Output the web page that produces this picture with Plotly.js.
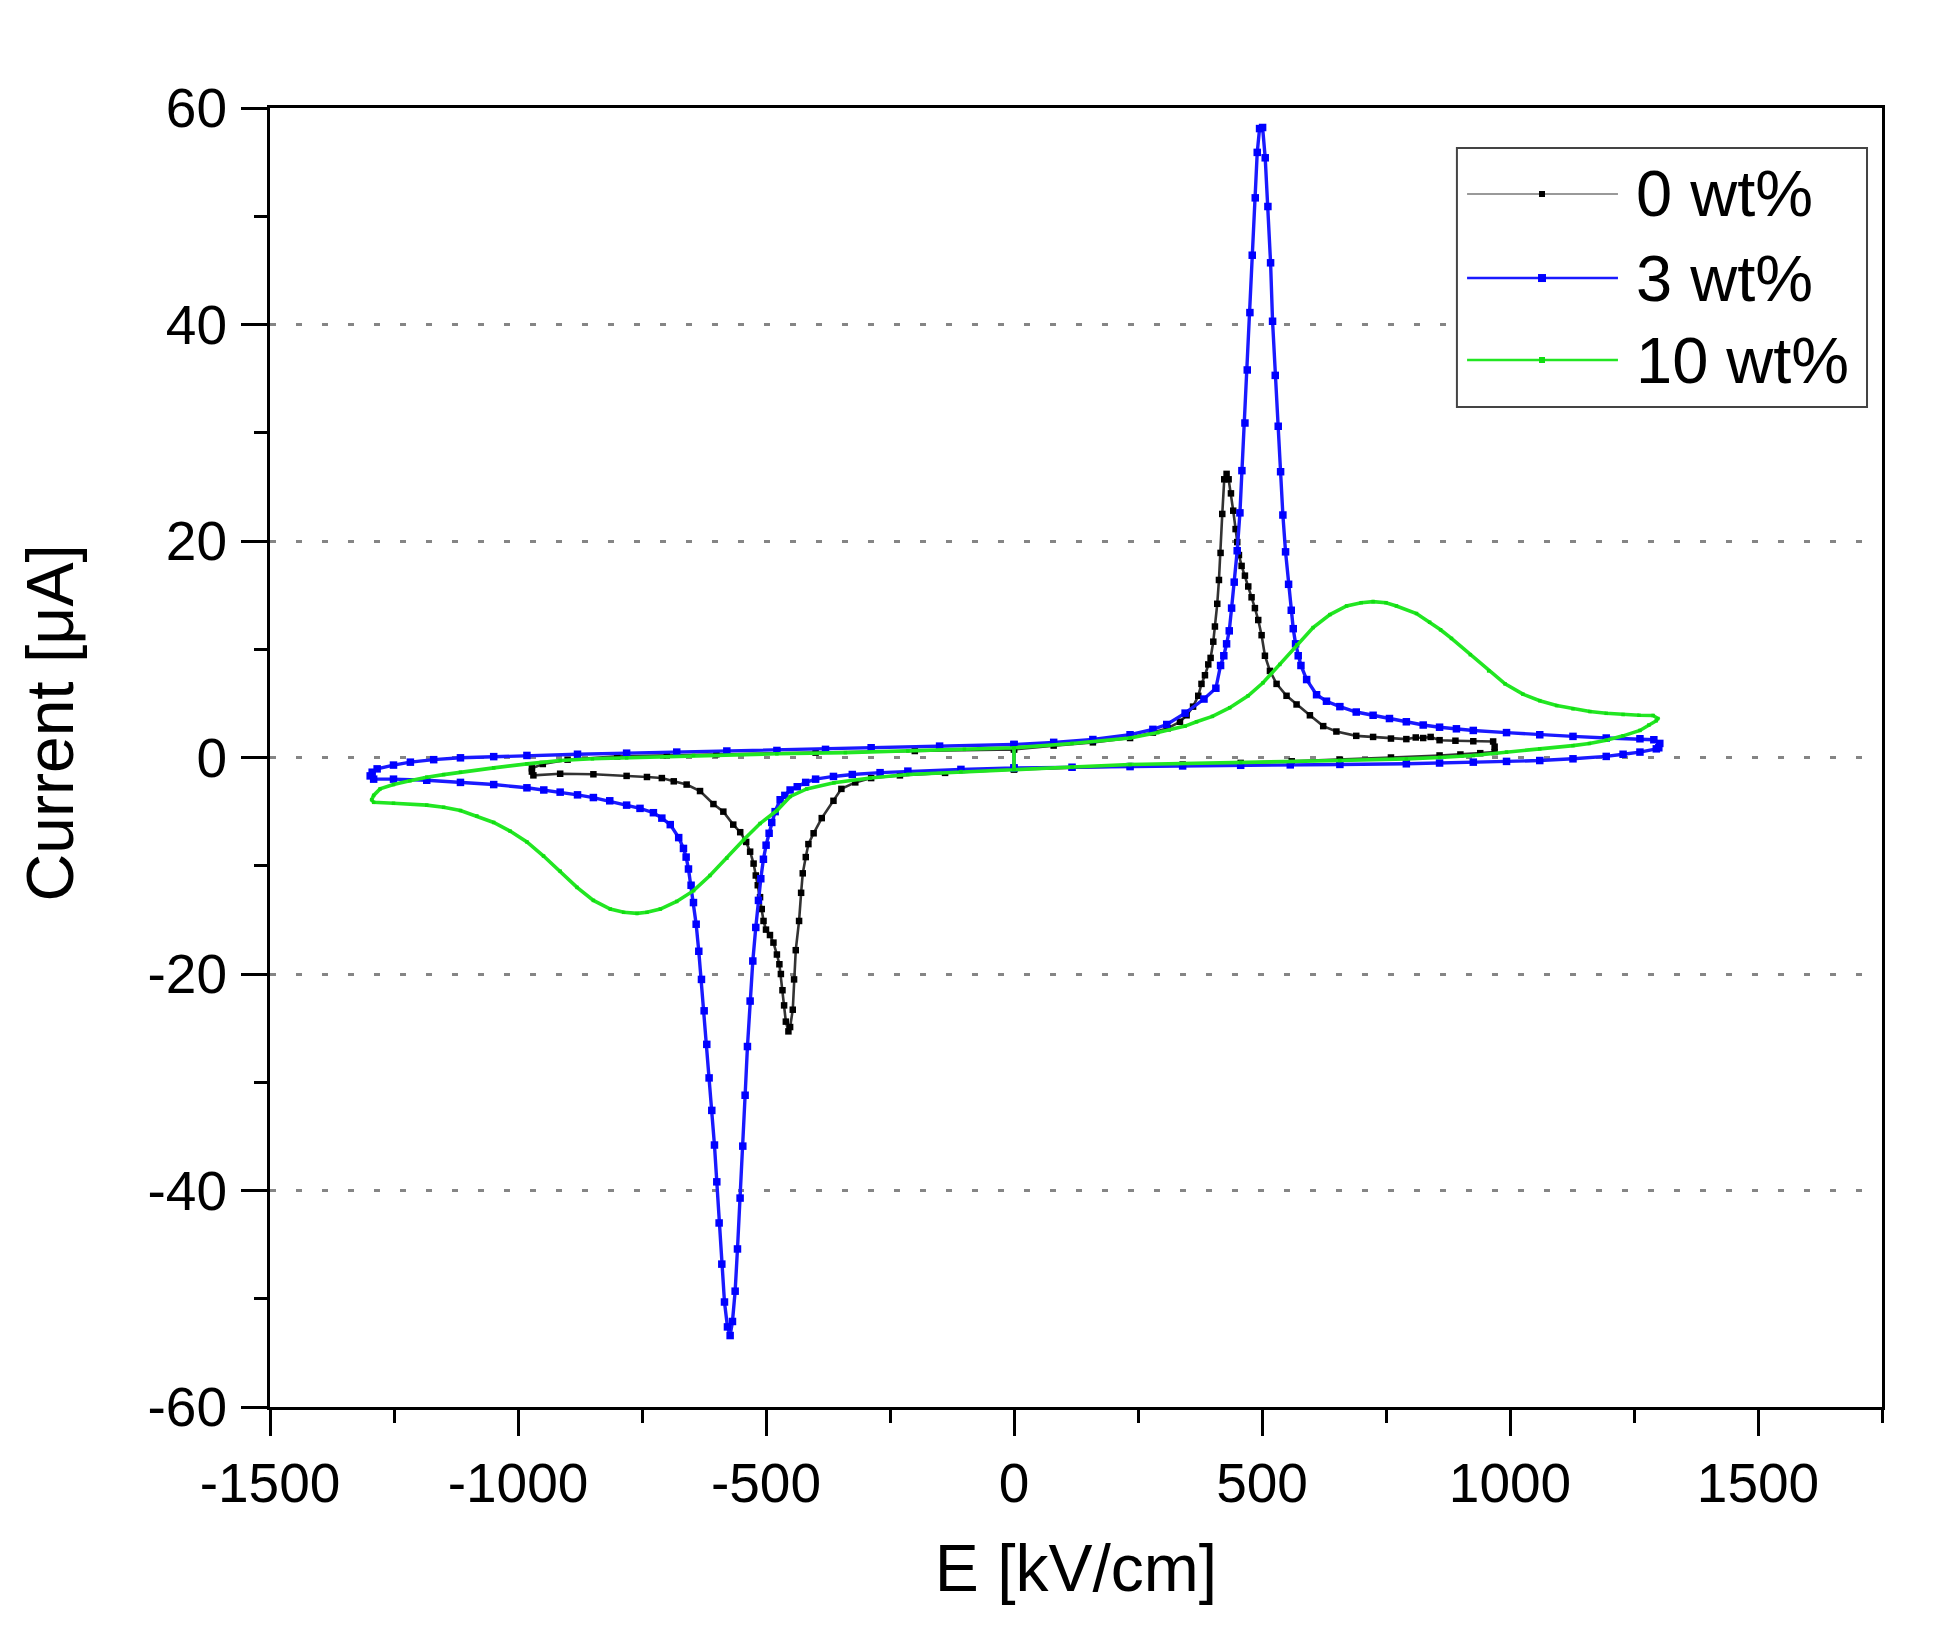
<!DOCTYPE html>
<html>
<head>
<meta charset="utf-8">
<script src="https://cdn.plot.ly/plotly-3.0.1.min.js"></script>
<style>
  html, body { margin: 0; padding: 0; background: #fff; }
  #chart { width: 1945px; height: 1645px; }
</style>
</head>
<body>
<div id="chart"></div>
<script>
// series names, as in the legend
const seriesNames = ['0 wt%', '3 wt%', '10 wt%'];

// 0 wt% : E [kV/cm] and current [µA], in sweep order (0 -> +E -> -E -> 0)
const e0 = [0, 0, 80, 159, 234, 280, 310, 334.6, 348, 361, 371.5, 378, 385, 391.7, 396.4, 401.8, 405.1, 409.8, 413.2, 416.5, 419.9, 423.9, 428.6, 432.7, 437.4, 442, 446.8, 450.1, 453.5, 458.9, 465.6, 472.3, 479, 485.7, 492.4, 499.2, 505.9, 516, 529.4, 549.5, 569.7, 596.6, 623.4, 650, 690, 724, 760, 791, 810, 825, 840, 858, 890, 926, 966,
  969, 969,
  940, 900, 858, 760, 657, 560, 457, 340, 234, 117, 0, -139, -230, -288, -320, -348, -364, -387.6, -404, -414.5, -419.8, -425.9, -429.2, -433.3, -440, -443.4, -446, -451.4, -454.8, -460, -463.5, -466.8, -470, -473, -478, -485, -492, -500, -505, -508.5, -512, -516.6, -520.6, -525, -532, -540, -552, -566, -586, -606, -633, -660, -686, -710, -740, -781, -848, -915, -969,
  -972, -972,
  -950, -900, -800, -700, -600, -400, -200, 0];
const i0 = [-1.1, 0.75, 1.1, 1.4, 1.8, 2.3, 2.7, 3.3, 3.9, 4.7, 5.7, 6.8, 7.6, 8.6, 9.2, 10.7, 12.1, 14.2, 16.4, 18.9, 22.5, 25.7, 26.2, 25.7, 24.4, 22.8, 21.1, 19.9, 18.7, 17.7, 16.8, 15.8, 14.8, 13.8, 12.7, 11.3, 9.4, 8.0, 6.8, 5.7, 4.9, 3.9, 2.9, 2.4, 2.0, 1.9, 1.75, 1.7, 1.85, 1.8, 1.9, 1.6, 1.55, 1.5, 1.48,
  1.0, 0.5,
  0.4, 0.28, 0.19, 0, -0.2, -0.35, -0.5, -0.65, -0.8, -0.95, -1.1, -1.42, -1.65, -1.9, -2.3, -2.9, -4.0, -5.6, -7.0, -8.0, -9.2, -10.7, -12.5, -15.1, -17.8, -20.5, -23.3, -24.9, -25.3, -24.4, -22.9, -21.5, -20.0, -19.1, -18.2, -17.1, -16.4, -15.9, -15.1, -14.0, -12.9, -11.8, -10.9, -9.8, -8.7, -7.8, -6.9, -6.2, -5.0, -4.3, -3.1, -2.5, -2.2, -1.9, -1.8, -1.7, -1.55, -1.5, -1.65,
  -1.3, -1.0,
  -0.6, -0.2, 0.1, 0.2, 0.3, 0.45, 0.6, 0.75];

// 3 wt%
const e3 = [0, 0, 80, 159, 234, 280, 308, 345, 383, 407, 416.5, 423, 428.6, 434, 438.7, 444, 450, 455.5, 459.5, 465.6, 470.3, 475.6, 480.3, 486.4, 490.4, 495.1, 501.2, 506.5, 511.9, 517.3, 521.3, 526.7, 532.7, 537.5, 542.1, 547.5, 553.6, 559, 563, 567.7, 573, 578.5, 590, 610, 630, 657, 690, 724, 757, 791, 825, 858, 892, 926, 993, 1060, 1127, 1194, 1262, 1290,
  1302, 1300,
  1295, 1262, 1228, 1194, 1127, 1060, 993, 926, 858, 791, 657, 557, 457, 340, 234, 117, 0, -107, -214, -270, -326, -364, -400, -420, -437, -451.4, -462, -471.5, -481.6, -488.4, -493.7, -499.8, -505.2, -510.5, -515.2, -520.6, -526.6, -532, -537.4, -542.1, -546.8, -552.2, -557.5, -562.2, -567.6, -572.3, -577.7, -583.7, -589.1, -594.5, -599.2, -603.9, -609.3, -614.7, -619.4, -624.7, -630.1, -635.5, -640.8, -646.2, -651, -656.3, -661, -666.4, -676, -693, -710, -727, -754, -781, -815, -848, -880, -915, -948, -982, -1049, -1116, -1184, -1251, -1291,
  -1298, -1294,
  -1284, -1251, -1217, -1170, -1116, -1049, -982, -880, -781, -680, -579, -478, -380, -288, -150, 0];
const i3 = [-0.96, 1.2, 1.4, 1.66, 2.1, 2.6, 3.05, 4.1, 5.4, 6.4, 8.5, 9.4, 10.5, 11.7, 13.8, 16.2, 19.1, 22.6, 26.5, 30.9, 35.8, 41.1, 46.4, 51.7, 55.9, 58.1, 58.2, 55.4, 50.9, 45.7, 40.3, 35.3, 30.6, 26.4, 22.4, 19.0, 16.0, 13.6, 11.9, 10.5, 9.4, 8.5, 7.2, 5.8, 5.2, 4.7, 4.2, 3.9, 3.6, 3.3, 3.0, 2.8, 2.65, 2.5, 2.3, 2.1, 1.95, 1.8, 1.73, 1.64,
  1.3, 0.9,
  0.8, 0.5, 0.3, 0.1, -0.12, -0.28, -0.36, -0.43, -0.51, -0.58, -0.64, -0.68, -0.72, -0.78, -0.84, -0.9, -0.96, -1.1, -1.26, -1.4, -1.57, -1.75, -2.0, -2.3, -2.7, -3.0, -3.5, -3.9, -5.0, -6.0, -7.0, -8.1, -9.4, -11.2, -13.2, -15.7, -18.8, -22.5, -26.7, -31.2, -35.9, -40.7, -45.4, -49.3, -52.1, -53.4, -52.6, -50.3, -46.8, -43.0, -39.2, -35.8, -32.6, -29.6, -26.5, -23.4, -20.5, -17.9, -15.4, -13.4, -11.8, -10.3, -9.2, -8.4, -7.4, -6.2, -5.6, -5.1, -4.7, -4.4, -4.0, -3.7, -3.45, -3.2, -3.0, -2.8, -2.5, -2.3, -2.1, -2.0, -2.0,
  -1.7, -1.36,
  -1.05, -0.7, -0.43, -0.2, -0.03, 0.08, 0.19, 0.3, 0.4, 0.5, 0.6, 0.65, 0.75, 0.9, 1.05, 1.2];

// 10 wt%
const e10 = [0, 0, 117, 234, 290, 345, 368, 400, 435, 472, 502, 536, 570, 603, 637, 670.5, 700, 724, 750, 771, 811.5, 838, 860, 882, 920, 957, 990, 1026, 1060, 1094, 1127, 1161, 1194, 1228, 1260, 1288.5,
  1298,
  1295, 1280, 1262, 1228, 1194, 1160, 1127, 1060, 993, 926, 858, 791, 657, 457, 234, 117, 0, -107, -214, -290, -363, -418, -451, -478, -512, -545, -579, -613, -646, -680, -713, -740, -760, -787, -814, -848, -881, -915, -948.5, -982, -1016, -1049, -1083, -1116, -1150, -1184, -1251, -1291,
  -1295,
  -1291, -1278, -1251, -1218, -1184, -1150, -1116, -1049, -982, -915, -850, -781, -646, -478, -340, -214, -100, 0];
const i10 = [-1.1, 0.9, 1.3, 1.8, 2.3, 2.9, 3.3, 3.8, 4.6, 5.7, 6.9, 8.6, 10.4, 12.0, 13.2, 14.0, 14.3, 14.4, 14.3, 14.0, 13.3, 12.5, 11.8, 11.0, 9.5, 8.0, 6.8, 5.85, 5.25, 4.8, 4.5, 4.25, 4.08, 3.97, 3.9, 3.88,
  3.6,
  3.4, 3.0, 2.5, 2.0, 1.6, 1.3, 1.1, 0.8, 0.5, 0.19, 0.0, -0.13, -0.28, -0.45, -0.65, -0.88, -1.1, -1.3, -1.57, -1.9, -2.34, -2.9, -3.6, -4.9, -6.1, -7.6, -9.3, -10.9, -12.3, -13.3, -14.0, -14.3, -14.4, -14.3, -14.0, -13.2, -12.0, -10.5, -9.1, -7.8, -6.8, -6.0, -5.4, -4.9, -4.6, -4.4, -4.23, -4.14,
  -3.9,
  -3.5, -2.9, -2.5, -2.15, -1.82, -1.58, -1.36, -0.96, -0.59, -0.28, -0.12, -0.03, 0.2, 0.34, 0.45, 0.6, 0.75, 0.9];

// axis ticks
const xTickVals = [-1500, -1000, -500, 0, 500, 1000, 1500];
const xTickText = ['-1500', '-1000', '-500', '0', '500', '1000', '1500'];
const yTickVals = [-60, -40, -20, 0, 20, 40, 60];
const yTickText = ['-60', '-40', '-20', '0', '20', '40', '60'];

const FONT = 'Liberation Sans, Arial, sans-serif';
const W = 1945, H = 1645;
const margin = { l: 270, r: 63, t: 108, b: 238 };

// trace looks: line colour, line width, marker colour, marker size
const looks = [
    { line: '#333333', width: 2.6, marker: '#000000', size: 6.5 },
    { line: '#1a1aff', width: 3.4, marker: '#0000ff', size: 7.5 },
    { line: '#22e622', width: 3.6, marker: '#11dd11', size: 3.5 },
];
const xs = [e0, e3, e10];
const ys = [i0, i3, i10];

const data = seriesNames.map((name, k) => ({
    type: 'scatter',
    mode: 'lines+markers',
    name: name,
    x: xs[k],
    y: ys[k],
    line: { color: looks[k].line, width: looks[k].width },
    marker: { symbol: 'square', color: looks[k].marker, size: looks[k].size, line: { width: 0 } },
    showlegend: false,
    hoverinfo: 'skip',
}));

// hand-made legend box (the built-in one has fixed 30px line samples)
const leg = { x0: 0.7363, x1: 0.9907, y0: 0.7698, y1: 0.9692 };
const legRows = [0.9338, 0.8691, 0.8060];
const shapes = [{
    type: 'rect', xref: 'paper', yref: 'paper',
    x0: leg.x0, x1: leg.x1, y0: leg.y0, y1: leg.y1,
    line: { color: '#444', width: 2 }, fillcolor: 'white', layer: 'above'
}];
const annotations = [];
seriesNames.forEach((name, k) => {
    const legLine = k === 0 ? '#999999' : looks[k].line;
    shapes.push({
        type: 'line', xref: 'paper', yref: 'paper', layer: 'above',
        x0: 0.7426, x1: 0.8362, y0: legRows[k], y1: legRows[k],
        line: { color: legLine, width: k === 0 ? 2 : 2.5 }
    });
    const half = k === 1 ? 4 : 3;
    shapes.push({
        type: 'rect', xref: 'paper', yref: 'paper', layer: 'above',
        xsizemode: 'pixel', ysizemode: 'pixel',
        xanchor: 0.7891, yanchor: legRows[k],
        x0: -half, x1: half, y0: -half, y1: half,
        fillcolor: looks[k].marker, line: { width: 0 }
    });
    annotations.push({
        xref: 'paper', yref: 'paper', x: 0.846, y: legRows[k],
        xanchor: 'left', yanchor: 'middle', showarrow: false,
        text: name, font: { family: FONT, size: 65, color: '#000' }
    });
});

// y title placed by hand: in the original it sits a little above the axis centre
annotations.push({
    xref: 'paper', yref: 'paper', x: -0.1365, y: 0.527,
    xanchor: 'center', yanchor: 'middle', textangle: -90, showarrow: false,
    text: 'Current [μA]', font: { family: FONT, size: 66, color: '#000' }
});

const axisCommon = {
    showline: true, linecolor: '#000', linewidth: 3, mirror: true,
    ticks: 'outside', ticklen: 26, tickwidth: 3, tickcolor: '#000',
    tickmode: 'array',
    tickfont: { family: FONT, size: 55, color: '#000' },
    zeroline: false,
};

const layout = {
    width: W, height: H,
    margin: margin,
    paper_bgcolor: '#fff', plot_bgcolor: '#fff',
    showlegend: false,
    font: { family: FONT, color: '#000' },
    xaxis: Object.assign({}, axisCommon, {
        range: [-1500, 1750],
        tickvals: xTickVals, ticktext: xTickText,
        ticklabelstandoff: 0,
        showgrid: false,
        minor: { tickvals: [-1250, -750, -250, 250, 750, 1250, 1750], ticks: 'outside', ticklen: 13, tickwidth: 3, tickcolor: '#000', showgrid: false },
        title: { text: 'E [kV/cm]', font: { family: FONT, size: 66, color: '#000' }, standoff: 32 },
    }),
    yaxis: Object.assign({}, axisCommon, {
        range: [-60, 60],
        tickvals: yTickVals, ticktext: yTickText,
        ticklabelstandoff: 3,
        showgrid: true, gridcolor: '#858585', gridwidth: 3, griddash: '6px,20px',
        minor: { tickvals: [-50, -30, -10, 10, 30, 50], ticks: 'outside', ticklen: 13, tickwidth: 3, tickcolor: '#000', showgrid: false },
    }),
    shapes: shapes,
    annotations: annotations,
};

Plotly.newPlot('chart', data, layout, { staticPlot: true, displayModeBar: false });
</script>
</body>
</html>
